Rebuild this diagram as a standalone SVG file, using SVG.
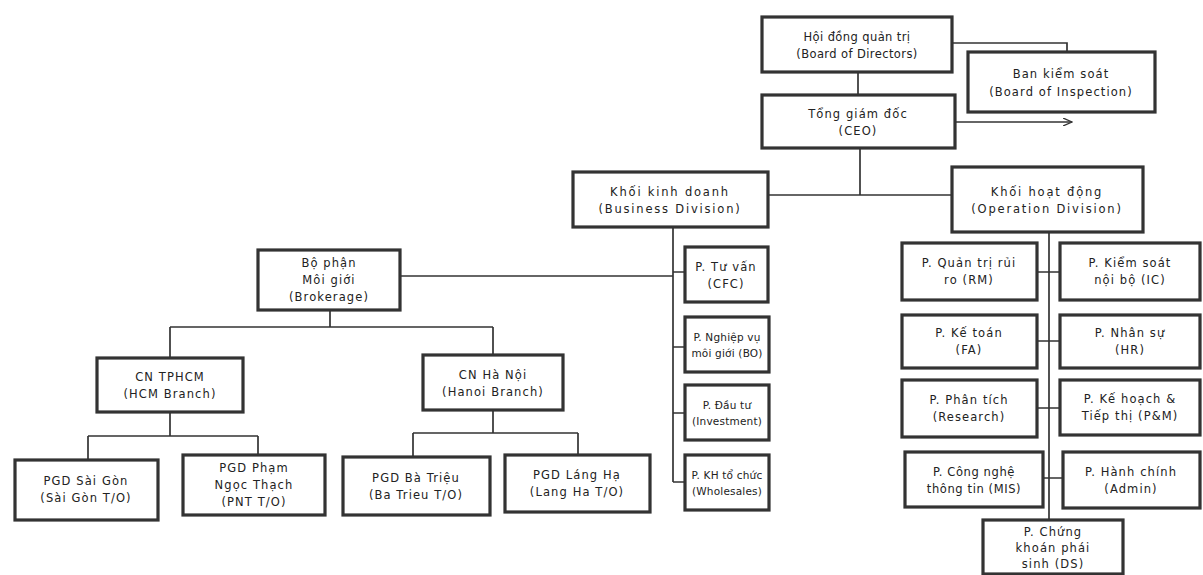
<svg xmlns="http://www.w3.org/2000/svg" width="1203" height="575" viewBox="0 0 1203 575">
<defs>
<style>
.box{fill:#fff;stroke:#333;stroke-width:3.2}
.t{font-family:"DejaVu Sans","Noto Sans",sans-serif;font-size:11.5px;fill:#222;text-anchor:middle;letter-spacing:1.1px}
.n{font-size:10.5px;letter-spacing:0.2px}
.c{fill:none;stroke:#333;stroke-width:1.7}
</style>
<marker id="arr" markerWidth="10" markerHeight="8" refX="9" refY="4" orient="auto" markerUnits="userSpaceOnUse">
<path d="M0,0 L9,4 L0,8" fill="none" stroke="#333" stroke-width="1.3"/>
</marker>
</defs>
<rect width="1203" height="575" fill="#fff"/>
<g id="connectors">
<path class="c" d="M952,43 H1067 V52"/>
<path class="c" d="M858,72 V95"/>
<path class="c" d="M955,122 H1072" marker-end="url(#arr)"/>
<path class="c" d="M860,148 V195"/>
<path class="c" d="M768,195 H952"/>
<path class="c" d="M673,227 V482"/>
<path class="c" d="M673,272 H685 M673,347 H685 M673,413 H685 M673,482 H685"/>
<path class="c" d="M400,276 H673"/>
<path class="c" d="M330,310 V327 M170,327 H493 M170,327 V358 M493,327 V355"/>
<path class="c" d="M170,412 V436 M88,436 H258 M88,436 V460 M258,436 V455"/>
<path class="c" d="M493,410 V433 M413,433 H578 M413,433 V457 M578,433 V455"/>
<path class="c" d="M1049,232 V520"/>
<path class="c" d="M1037,272 H1060 M1037,341 H1060 M1037,408 H1060 M1043,478 H1063"/>
</g>
<g id="bod"><rect class="box" x="762" y="17" width="190" height="55"/><text class="t" x="857" y="41" style="letter-spacing:0.4px">Hội đồng quản trị</text><text class="t" x="857" y="58" style="letter-spacing:0.4px">(Board of Directors)</text></g>
<g id="boi"><rect class="box" x="968" y="52" width="187" height="60"/><text class="t" x="1061" y="78">Ban kiểm soát</text><text class="t" x="1061" y="96">(Board of Inspection)</text></g>
<g id="ceo"><rect class="box" x="762" y="95" width="193" height="53"/><text class="t" x="858" y="118">Tổng giám đốc</text><text class="t" x="858" y="135">(CEO)</text></g>
<g id="bd"><rect class="box" x="573" y="172" width="195" height="55"/><text class="t" x="670" y="196" style="letter-spacing:1.8px">Khối kinh doanh</text><text class="t" x="670" y="213" style="letter-spacing:1.8px">(Business Division)</text></g>
<g id="od"><rect class="box" x="952" y="167" width="191" height="65"/><text class="t" x="1047" y="196" style="letter-spacing:1.8px">Khối hoạt động</text><text class="t" x="1047" y="213" style="letter-spacing:1.8px">(Operation Division)</text></g>
<g id="brokerage"><rect class="box" x="258" y="250" width="142" height="60"/><text class="t" x="329" y="267">Bộ phận</text><text class="t" x="329" y="284">Môi giới</text><text class="t" x="329" y="301">(Brokerage)</text></g>
<g id="cfc"><rect class="box" x="685" y="247" width="83" height="55"/><text class="t" x="726" y="271">P. Tư vấn</text><text class="t" x="726" y="288">(CFC)</text></g>
<g id="bo"><rect class="box" x="685" y="317" width="84" height="55"/><text class="t n" x="727" y="341">P. Nghiệp vụ</text><text class="t n" x="727" y="357">môi giới (BO)</text></g>
<g id="inv"><rect class="box" x="685" y="385" width="84" height="55"/><text class="t n" x="727" y="409">P. Đầu tư</text><text class="t n" x="727" y="425">(Investment)</text></g>
<g id="whole"><rect class="box" x="685" y="455" width="84" height="55"/><text class="t n" x="727" y="479">P. KH tổ chức</text><text class="t n" x="727" y="495">(Wholesales)</text></g>
<g id="hcm"><rect class="box" x="97" y="358" width="146" height="54"/><text class="t" x="170" y="381">CN TPHCM</text><text class="t" x="170" y="398">(HCM Branch)</text></g>
<g id="hanoi"><rect class="box" x="423" y="355" width="140" height="55"/><text class="t" x="493" y="379">CN Hà Nội</text><text class="t" x="493" y="396">(Hanoi Branch)</text></g>
<g id="saigon"><rect class="box" x="15" y="460" width="143" height="60"/><text class="t" x="86" y="485">PGD Sài Gòn</text><text class="t" x="86" y="502">(Sài Gòn T/O)</text></g>
<g id="pnt"><rect class="box" x="183" y="455" width="142" height="60"/><text class="t" x="254" y="472">PGD Phạm</text><text class="t" x="254" y="489">Ngọc Thạch</text><text class="t" x="254" y="506">(PNT T/O)</text></g>
<g id="batrieu"><rect class="box" x="343" y="457" width="147" height="58"/><text class="t" x="416" y="482">PGD Bà Triệu</text><text class="t" x="416" y="499">(Ba Trieu T/O)</text></g>
<g id="langha"><rect class="box" x="505" y="455" width="145" height="57"/><text class="t" x="577" y="479">PGD Láng Hạ</text><text class="t" x="577" y="496">(Lang Ha T/O)</text></g>
<g id="rm"><rect class="box" x="902" y="243" width="135" height="57"/><text class="t" x="969" y="267">P. Quản trị rủi</text><text class="t" x="969" y="284">ro (RM)</text></g>
<g id="ic"><rect class="box" x="1060" y="243" width="140" height="57"/><text class="t" x="1130" y="267">P. Kiểm soát</text><text class="t" x="1130" y="284">nội bộ (IC)</text></g>
<g id="fa"><rect class="box" x="902" y="315" width="135" height="53"/><text class="t" x="969" y="337">P. Kế toán</text><text class="t" x="969" y="354">(FA)</text></g>
<g id="hr"><rect class="box" x="1060" y="315" width="140" height="53"/><text class="t" x="1130" y="337">P. Nhân sự</text><text class="t" x="1130" y="354">(HR)</text></g>
<g id="research"><rect class="box" x="902" y="380" width="135" height="57"/><text class="t" x="969" y="404">P. Phân tích</text><text class="t" x="969" y="421">(Research)</text></g>
<g id="pm"><rect class="box" x="1060" y="380" width="140" height="55"/><text class="t" x="1130" y="403">P. Kế hoạch &amp;</text><text class="t" x="1130" y="420">Tiếp thị (P&amp;M)</text></g>
<g id="mis"><rect class="box" x="905" y="452" width="138" height="55"/><text class="t" x="974" y="476" style="letter-spacing:0.6px">P. Công nghệ</text><text class="t" x="974" y="493" style="letter-spacing:0.6px">thông tin (MIS)</text></g>
<g id="admin"><rect class="box" x="1063" y="452" width="137" height="56"/><text class="t" x="1131" y="476">P. Hành chính</text><text class="t" x="1131" y="493">(Admin)</text></g>
<g id="ds"><rect class="box" x="983" y="520" width="140" height="54"/><text class="t" x="1053" y="536">P. Chứng</text><text class="t" x="1053" y="552">khoán phái</text><text class="t" x="1053" y="568">sinh (DS)</text></g>
</svg>
